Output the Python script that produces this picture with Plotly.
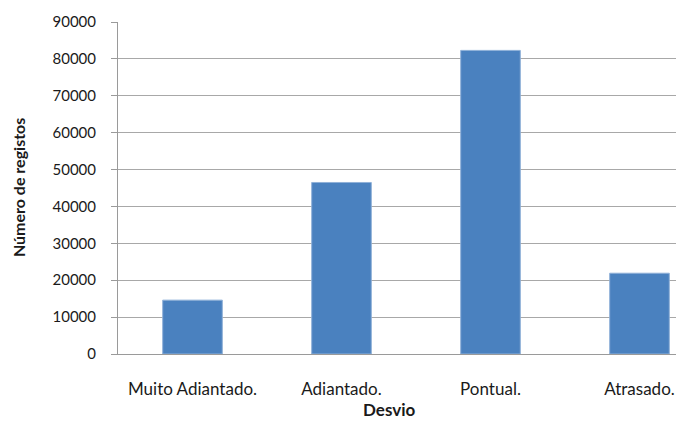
import plotly.graph_objects as go

categories = ["Muito Adiantado.", "Adiantado.", "Pontual.", "Atrasado."]
values = [14600, 46500, 82300, 21900]
y_ticks = [0, 10000, 20000, 30000, 40000, 50000, 60000, 70000, 80000, 90000]

fig = go.Figure(go.Bar(
    x=categories, y=values,
    marker=dict(color="#4a81bf", line=dict(color="#8fb0d8", width=1)),
    width=0.4,
))

font = "Lato, 'Open Sans', sans-serif"
fig.update_layout(
    width=676, height=421,
    margin=dict(l=118, r=0, t=22, b=67),
    paper_bgcolor="white", plot_bgcolor="white",
    showlegend=False,
    font=dict(family=font, size=15, color="#1a1a1a"),
    xaxis=dict(
        range=[-0.5, 3.245], showgrid=False, automargin=False,
        showline=True, linecolor="#9a9a9a", linewidth=1,
        ticks="", ticklabelstandoff=20,
        tickfont=dict(size=17),
    ),
    yaxis=dict(
        range=[0, 90000], tickvals=y_ticks, ticktext=[str(v) for v in y_ticks],
        automargin=False,
        showgrid=True, gridcolor="#a8a8a8", gridwidth=1,
        showline=True, linecolor="#9a9a9a", linewidth=1,
        ticks="outside", ticklen=6, tickcolor="#9a9a9a",
        ticklabelstandoff=12,
        zeroline=False,
        tickfont=dict(size=15),
    ),
    annotations=[
        dict(text="<b>Desvio</b>", xref="paper", yref="paper", x=0.487, y=-0.166,
             xanchor="center", yanchor="middle", showarrow=False, font=dict(size=17)),
        dict(text="<b>Número de registos</b>", xref="paper", yref="paper", x=-0.179, y=0.5,
             xanchor="center", yanchor="middle", textangle=-90, showarrow=False,
             font=dict(size=16)),
    ],
)

fig.write_html("out.html")
